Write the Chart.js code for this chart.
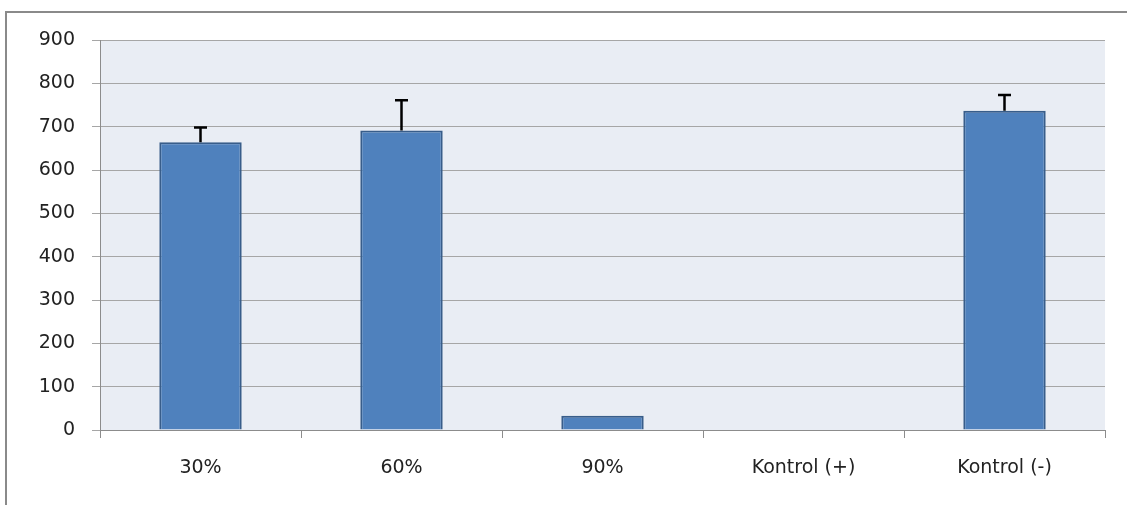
<!DOCTYPE html>
<html>
<head>
<meta charset="utf-8">
<script src="https://cdn.jsdelivr.net/npm/chart.js@4.4.1/dist/chart.umd.min.js"></script>
<style>
  html, body { margin: 0; padding: 0; background: #fff; overflow: hidden; }
  #frame {
    position: absolute; left: 5px; top: 11px; width: 2000px; height: 2000px;
    border-left: 2px solid #8a8a8a; border-top: 2px solid #8a8a8a;
  }
  #wrap { position: absolute; left: 0; top: 0; width: 1127px; height: 505px; }
</style>
</head>
<body>
<div id="frame"></div>
<div id="wrap"><canvas id="chart"></canvas></div>
<script>
  const labels = ["30%", "60%", "90%", "Kontrol (+)", "Kontrol (-)"];
  const values = [664, 691, 33, 0, 737];
  const errors = [34, 70, 0, 0, 36];
  const yTicks = [0, 100, 200, 300, 400, 500, 600, 700, 800, 900];

  // fill the plot area like the Excel chart
  const plotBackground = {
    id: "plotBackground",
    beforeDraw(chart) {
      const { ctx, chartArea } = chart;
      ctx.save();
      ctx.fillStyle = "#e9edf4";
      ctx.fillRect(chartArea.left, chartArea.top,
        chartArea.right - chartArea.left, chartArea.bottom - chartArea.top);
      ctx.restore();
    },
  };

  // upper error bars with a cap
  const errorBars = {
    id: "errorBars",
    afterDatasetsDraw(chart) {
      const { ctx } = chart;
      const meta = chart.getDatasetMeta(0);
      const y = chart.scales.y;
      ctx.save();
      ctx.strokeStyle = "#000";
      ctx.lineWidth = 2.5;
      meta.data.forEach((bar, i) => {
        if (!errors[i]) return;
        const top = y.getPixelForValue(values[i] + errors[i]);
        const base = y.getPixelForValue(values[i]);
        ctx.beginPath();
        ctx.moveTo(bar.x, base);
        ctx.lineTo(bar.x, top);
        ctx.moveTo(bar.x - 6.5, top);
        ctx.lineTo(bar.x + 6.5, top);
        ctx.stroke();
      });
      ctx.restore();
    },
  };

  const font = { family: "DejaVu Sans", size: 19 };

  const chart = new Chart(document.getElementById("chart"), {
    type: "bar",
    data: {
      labels: labels,
      datasets: [
        {
          data: values,
          backgroundColor: "#4f81bd",
          borderColor: "#385d8a",
          borderWidth: 2,
          barPercentage: 0.41,
          categoryPercentage: 1,
        },
      ],
    },
    options: {
      responsive: true,
      maintainAspectRatio: false,
      animation: false,
      layout: { padding: { top: 40, right: 22, left: 0, bottom: 0 } },
      scales: {
        y: {
          min: 0,
          max: 900,
          afterFit(scale) { scale.width = 100; },
          afterBuildTicks(scale) { scale.ticks = yTicks.map((v) => ({ value: v })); },
          ticks: { color: "#222", font: font, padding: 17 },
          grid: { color: "#a6a6a6", lineWidth: 1, tickLength: 8 },
          border: { color: "#8c8c8c", width: 1 },
        },
        x: {
          afterFit(scale) { scale.height = 75; },
          ticks: { color: "#222", font: font, padding: 19, maxRotation: 0 },
          grid: { offset: true, drawOnChartArea: false, color: "#8c8c8c", tickLength: 8 },
          border: { color: "#8c8c8c", width: 1 },
        },
      },
      plugins: {
        legend: { display: false },
        tooltip: { enabled: false },
      },
    },
    plugins: [plotBackground, errorBars],
  });
</script>
</body>
</html>
